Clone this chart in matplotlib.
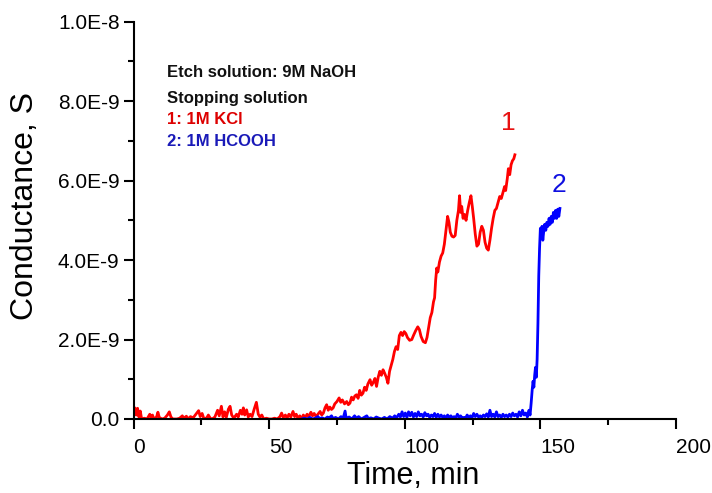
import matplotlib
matplotlib.use("Agg")
import matplotlib.pyplot as plt
from matplotlib.ticker import MultipleLocator, FixedLocator, FixedFormatter

plt.rcParams['font.family'] = ['Liberation Sans', 'DejaVu Sans']

# ---- data (time in min, conductance in nS) ----
red_t = [0.0, 0.5, 1.0, 1.5, 2.0, 2.5, 3.0, 4.0, 5.0, 6.0, 6.5, 7.0, 7.5, 8.5, 9.0, 9.5,
         10.5, 11.5, 12.5, 13.2, 13.8, 14.5, 16.0, 17.0, 18.0, 18.5, 19.5, 20.0, 21.0, 22.0,
         23.0, 24.0, 24.6, 25.3, 26.0, 27.0, 27.6, 28.3, 29.0, 30.0, 31.0, 31.6, 32.4, 33.0,
         33.6, 34.2, 35.0, 35.6, 36.2, 37.0, 38.0, 38.6, 39.4, 40.0, 40.5, 41.0, 41.7, 42.3,
         43.0, 43.7, 44.5, 45.3, 46.0, 46.6, 47.3, 48.0, 49.0, 50.0, 51.0, 52.0, 53.0, 54.0,
         54.6, 55.2, 56.0, 56.6, 57.3, 58.0, 58.8, 59.4, 60.0, 60.6, 61.3, 62.0, 62.6, 63.3,
         64.0, 64.6, 65.4, 66.0, 66.6, 67.3, 68.0, 68.8, 69.4, 70.0, 70.6, 71.2, 71.8, 72.4,
         73.0, 73.6, 74.2, 75.0, 75.8, 76.4, 77.0, 77.8, 78.6, 79.2, 79.8, 80.4, 81.0, 81.6,
         82.2, 82.8, 83.4, 84.0, 84.6, 85.2, 85.8, 86.4, 87.2, 87.8, 88.4, 89.0, 89.6, 90.2,
         90.8, 91.4, 92.0, 92.6, 93.2, 93.8, 94.4, 95.0, 95.6, 96.2, 96.8, 97.4, 98.0, 98.6,
         99.2, 99.8, 100.4, 101.0, 101.8, 102.6, 103.2, 104.0, 104.8, 105.4, 106.0, 106.8,
         107.6, 108.2, 108.8, 109.4, 110.0, 110.6, 111.0, 111.4, 111.8, 112.2, 112.8, 113.4,
         114.0, 114.6, 115.2, 115.8, 116.3, 116.8, 117.4, 118.0, 118.6, 119.2, 119.8, 120.2,
         120.6, 121.0, 121.5, 122.0, 122.6, 123.2, 123.8, 124.4, 124.9, 125.4, 126.0, 126.6,
         127.2, 127.8, 128.4, 129.0, 129.6, 130.2, 130.8, 131.4, 132.0, 132.6, 133.2, 133.8,
         134.4, 135.0, 135.6, 136.2, 136.8, 137.2, 137.8, 138.2, 138.7, 139.2, 139.7, 140.2,
         140.6]
red_g = [0.05, 0.28, 0.10, 0.27, 0.05, 0.20, 0.00, 0.02, 0.00, 0.12, 0.03, 0.10, 0.00, 0.05,
         0.17, 0.04, 0.00, 0.02, 0.10, 0.18, 0.05, 0.00, 0.00, 0.02, 0.08, 0.02, 0.07, 0.00,
         0.06, 0.03, 0.12, 0.21, 0.06, 0.14, 0.00, 0.03, 0.10, 0.02, 0.00, 0.05, 0.22, 0.08,
         0.32, 0.05, 0.18, 0.04, 0.25, 0.32, 0.10, 0.02, 0.12, 0.05, 0.22, 0.12, 0.28, 0.10,
         0.23, 0.05, 0.12, 0.06, 0.25, 0.42, 0.12, 0.05, 0.10, 0.00, 0.02, 0.00, 0.00, 0.02,
         0.00, 0.06, 0.15, 0.04, 0.10, 0.02, 0.12, 0.05, 0.19, 0.06, 0.12, 0.02, 0.08, 0.00,
         0.10, 0.04, 0.12, 0.06, 0.17, 0.08, 0.14, 0.06, 0.12, 0.19, 0.10, 0.15, 0.28, 0.36,
         0.22, 0.30, 0.24, 0.28, 0.38, 0.44, 0.53, 0.42, 0.48, 0.38, 0.44, 0.36, 0.40, 0.55,
         0.48, 0.58, 0.61, 0.52, 0.72, 0.60, 0.65, 0.80, 0.72, 0.88, 0.99, 0.85, 0.92, 1.02,
         0.82, 1.05, 1.20, 1.10, 1.24, 1.15, 1.05, 0.90, 1.20, 1.35, 1.50, 1.70, 1.82, 1.75,
         2.10, 2.18, 2.10, 2.20, 2.15, 2.05, 1.98, 2.00, 2.10, 2.22, 2.32, 2.25, 2.08, 1.95,
         1.92, 2.05, 2.30, 2.55, 2.68, 2.95, 3.05, 3.50, 3.80, 3.70, 3.95, 4.10, 4.18, 4.40,
         4.75, 5.10, 4.95, 4.70, 4.60, 4.58, 4.62, 5.00, 5.25, 5.62, 5.20, 5.35, 5.05, 5.15,
         5.00, 5.25, 5.45, 5.62, 5.35, 5.05, 4.65, 4.35, 4.40, 4.70, 4.85, 4.75, 4.45, 4.30,
         4.25, 4.50, 4.80, 5.05, 5.25, 5.30, 5.45, 5.60, 5.55, 5.70, 5.85, 5.75, 6.05, 6.30,
         6.15, 6.40, 6.50, 6.55, 6.65]

blue_t = [62.0, 63.0, 64.0, 65.0, 66.0, 67.0, 68.0, 68.6, 69.5, 70.5, 71.5, 72.0, 73.0, 73.6,
          74.5, 75.5, 76.5, 77.3, 78.0, 78.4, 79.5, 80.5, 81.5, 82.2, 83.0, 84.0, 85.0, 86.0,
          86.6, 87.5, 88.5, 89.5, 90.5, 91.5, 92.5, 93.5, 94.5, 95.5, 96.3, 97.0, 97.8, 98.4,
          99.0, 99.6, 100.2, 100.8, 101.4, 102.0, 102.6, 103.2, 103.8, 104.4, 105.0, 105.6,
          106.2, 106.8, 107.4, 108.0, 108.6, 109.2, 109.8, 110.4, 111.0, 111.6, 112.2, 112.8,
          113.4, 114.0, 114.6, 115.2, 115.8, 116.4, 117.0, 117.6, 118.2, 118.8, 119.4, 120.0,
          120.6, 121.2, 121.8, 122.4, 123.0, 123.6, 124.2, 124.8, 125.4, 126.0, 126.6, 127.2,
          127.8, 128.4, 129.0, 129.6, 130.2, 130.8, 131.4, 132.0, 132.6, 133.2, 133.8, 134.4,
          135.0, 135.6, 136.2, 136.8, 137.4, 138.0, 138.6, 139.2, 139.8, 140.4, 141.0, 141.6,
          142.2, 142.8, 143.4, 144.0, 144.6, 145.2, 145.8, 146.2, 146.6, 147.0, 147.3, 147.6,
          147.9, 148.2, 148.5, 148.8, 149.1, 149.4, 149.7, 150.0, 150.3, 150.6, 150.9, 151.2,
          151.6, 152.0, 152.4, 152.8, 153.2, 153.6, 154.0, 154.4, 154.8, 155.2, 155.6, 156.0,
          156.4, 156.8, 157.2]
blue_g = [0.00, 0.02, 0.00, 0.04, 0.00, 0.02, 0.06, 0.01, 0.03, 0.00, 0.05, 0.02, 0.08, 0.01,
          0.04, 0.00, 0.06, 0.02, 0.20, 0.02, 0.05, 0.00, 0.08, 0.02, 0.06, 0.00, 0.04, 0.08,
          0.01, 0.03, 0.00, 0.05, 0.02, 0.00, 0.04, 0.00, 0.06, 0.02, 0.08, 0.03, 0.12, 0.05,
          0.18, 0.06, 0.15, 0.04, 0.18, 0.08, 0.17, 0.05, 0.14, 0.06, 0.18, 0.08, 0.12, 0.05,
          0.16, 0.08, 0.12, 0.04, 0.10, 0.06, 0.14, 0.04, 0.12, 0.05, 0.10, 0.04, 0.08, 0.02,
          0.10, 0.04, 0.08, 0.03, 0.06, 0.02, 0.12, 0.05, 0.08, 0.02, 0.04, 0.02, 0.10, 0.04,
          0.08, 0.03, 0.14, 0.06, 0.12, 0.05, 0.08, 0.04, 0.10, 0.06, 0.13, 0.05, 0.22, 0.06,
          0.12, 0.05, 0.18, 0.06, 0.10, 0.04, 0.12, 0.06, 0.10, 0.05, 0.12, 0.06, 0.15, 0.08,
          0.12, 0.05, 0.18, 0.08, 0.22, 0.10, 0.15, 0.05, 0.22, 0.10, 0.40, 0.75, 0.95, 0.80,
          1.10, 1.30, 1.05, 1.50, 2.40, 3.60, 4.30, 4.80, 4.60, 4.85, 4.50, 4.70, 4.90, 4.75,
          4.95, 4.85, 5.05, 4.90, 5.10, 4.95, 5.20, 5.05, 5.25, 5.05, 5.28, 5.10, 5.30]

x_ticks = [0, 50, 100, 150, 200]
x_tick_labels = ["0", "50", "100", "150", "200"]
y_ticks = [0, 2e-9, 4e-9, 6e-9, 8e-9, 1e-8]
y_tick_labels = ["0.0", "2.0E-9", "4.0E-9", "6.0E-9", "8.0E-9", "1.0E-8"]

red_s = [g * 1e-9 for g in red_g]
blue_s = [g * 1e-9 for g in blue_g]

fig = plt.figure(figsize=(7.12, 4.93), dpi=100)
ax = fig.add_axes([133.5 / 712, 1 - 419 / 493, 542.5 / 712, 397.3 / 493])

ax.plot(red_t, red_s, color='#ff0000', lw=2.0, solid_joinstyle='round')
ax.plot(blue_t, blue_s, color='#0000ff', lw=2.0, solid_joinstyle='round')

ax.set_xlim(0, 200)
ax.set_ylim(0, 1e-8)

for s in ['top', 'right']:
    ax.spines[s].set_visible(False)
for s in ['left', 'bottom']:
    ax.spines[s].set_linewidth(1.5)
    ax.spines[s].set_zorder(3)

ax.xaxis.set_major_locator(FixedLocator(x_ticks))
ax.xaxis.set_major_formatter(FixedFormatter(x_tick_labels))
ax.xaxis.set_minor_locator(MultipleLocator(25))
ax.yaxis.set_major_locator(FixedLocator(y_ticks))
ax.yaxis.set_major_formatter(FixedFormatter(y_tick_labels))
ax.yaxis.set_minor_locator(MultipleLocator(1e-9))

ax.tick_params(axis='both', which='major', direction='out', length=7, width=1.5)
ax.tick_params(axis='both', which='minor', direction='out', length=4, width=1.5)
ax.tick_params(axis='x', which='major', labelsize=15, pad=7)
ax.tick_params(axis='y', which='major', labelsize=15, pad=3)
for lab in ax.get_xticklabels():
    lab.set_horizontalalignment('left')

ax.set_xlabel("Time, min", fontsize=22)
ax.xaxis.set_label_coords(0.515, -0.106)
ax.xaxis.label.set_verticalalignment('top')
ax.set_ylabel("Conductance, S", fontsize=23)
ax.yaxis.set_label_coords(-0.2, 0.535)
ax.yaxis.label.set_verticalalignment('center')

ax.text(12.2, 8.62e-9, "Etch solution: 9M NaOH", fontsize=12, fontweight='bold',
        color='#111111', va='baseline', ha='left')
ax.text(12.2, 7.95e-9, "Stopping solution", fontsize=12, fontweight='bold',
        color='#111111', va='baseline', ha='left')
ax.text(12.2, 7.42e-9, "1: 1M KCl", fontsize=12, fontweight='bold',
        color='#dd0000', va='baseline', ha='left')
ax.text(12.2, 6.88e-9, "2: 1M HCOOH", fontsize=12, fontweight='bold',
        color='#1a1ab8', va='baseline', ha='left')

ax.text(138.1, 7.28e-9, "1", fontsize=19, color='#e81010', ha='center', va='baseline')
ax.text(156.9, 5.72e-9, "2", fontsize=19, color='#1010e0', ha='center', va='baseline')

fig.savefig("out.png", dpi=100)
